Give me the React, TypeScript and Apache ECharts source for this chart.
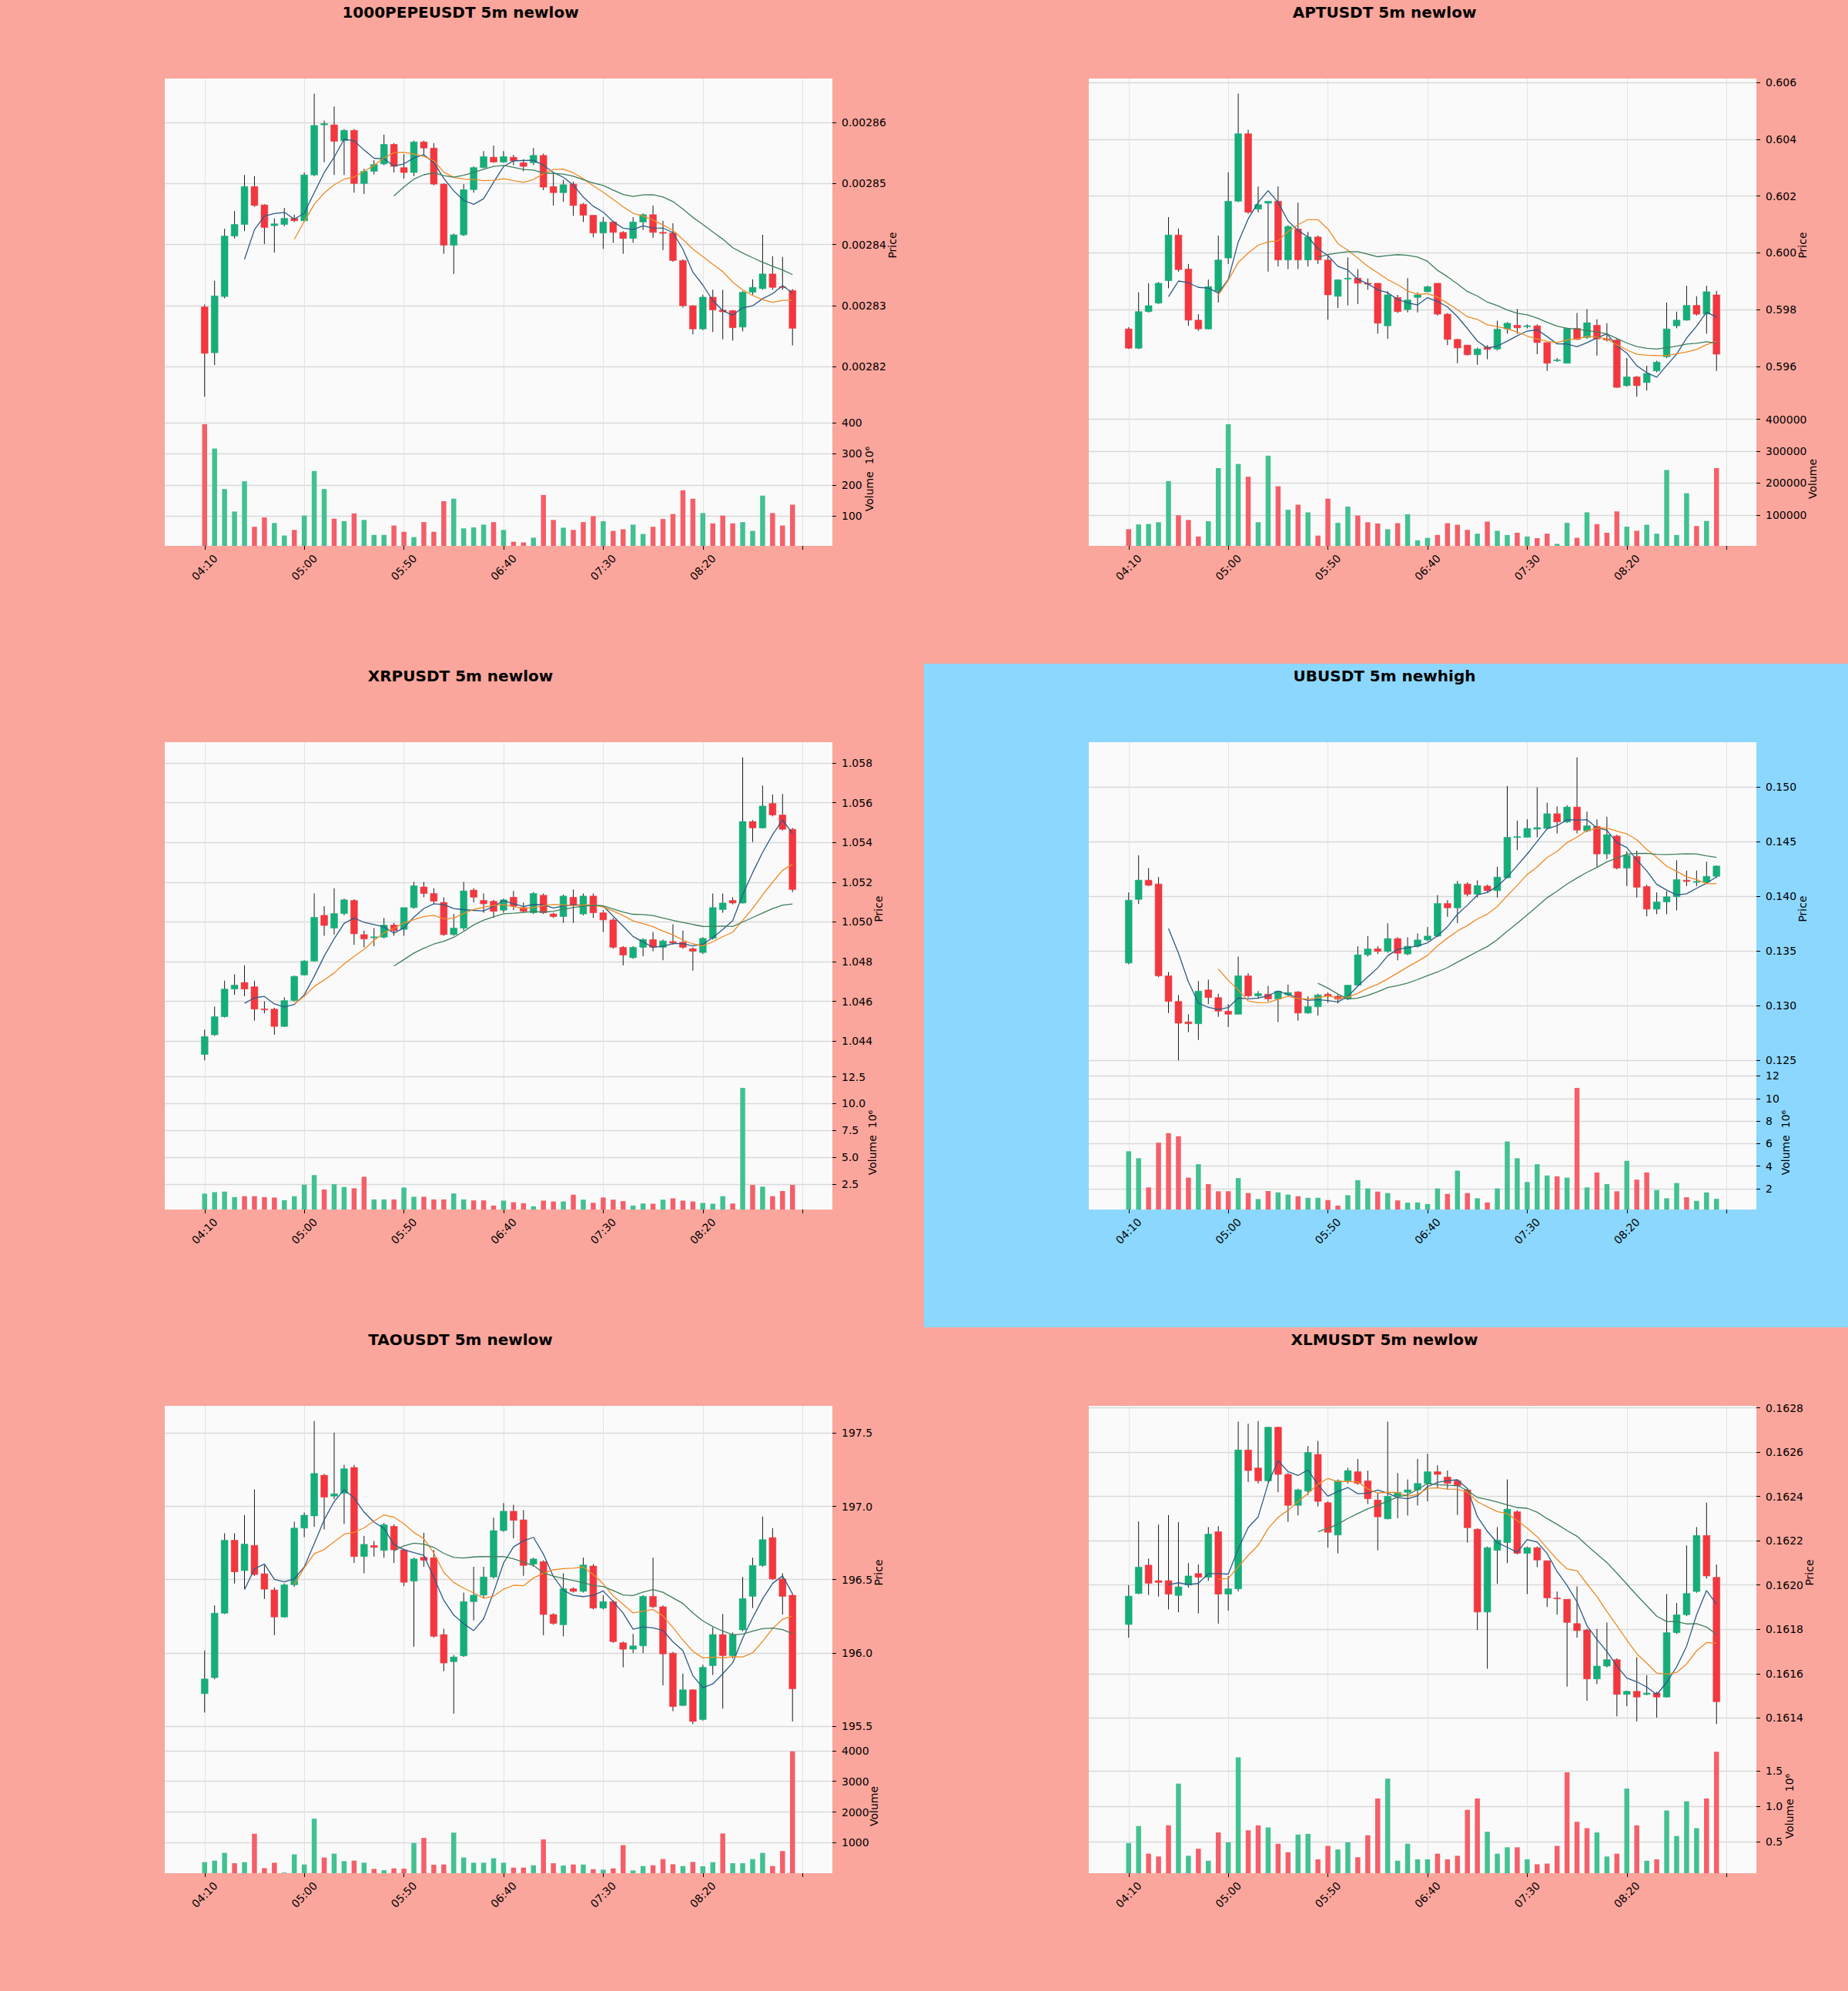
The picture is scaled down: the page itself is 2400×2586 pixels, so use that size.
import React, { useEffect, useRef } from 'react';
import * as echarts from 'echarts';

// ---------- data (OHLC rows are [open, high, low, close]) ----------
const PEPE_OHLC = [
  [282.98e-5, 283.02e-5, 281.51e-5, 282.22e-5], [282.23e-5, 283.41e-5, 282.03e-5, 283.16e-5], [283.15e-5, 284.26e-5, 283.12e-5, 284.14e-5],
  [284.14e-5, 284.55e-5, 284.10e-5, 284.33e-5], [284.33e-5, 285.14e-5, 284.22e-5, 284.95e-5], [284.95e-5, 285.12e-5, 284.62e-5, 284.64e-5],
  [284.65e-5, 284.66e-5, 284.01e-5, 284.28e-5], [284.31e-5, 284.43e-5, 283.87e-5, 284.34e-5], [284.33e-5, 284.60e-5, 284.30e-5, 284.43e-5],
  [284.43e-5, 284.49e-5, 284.37e-5, 284.39e-5], [284.39e-5, 285.18e-5, 284.37e-5, 285.14e-5], [285.14e-5, 286.47e-5, 285.12e-5, 285.95e-5],
  [285.96e-5, 286.03e-5, 285.35e-5, 285.98e-5], [285.96e-5, 286.26e-5, 285.14e-5, 285.69e-5], [285.70e-5, 285.89e-5, 285.14e-5, 285.87e-5],
  [285.87e-5, 285.89e-5, 284.85e-5, 285.00e-5], [285.00e-5, 285.24e-5, 284.83e-5, 285.20e-5], [285.20e-5, 285.38e-5, 285.15e-5, 285.31e-5],
  [285.32e-5, 285.80e-5, 285.30e-5, 285.64e-5], [285.64e-5, 285.66e-5, 285.18e-5, 285.28e-5], [285.26e-5, 285.48e-5, 285.08e-5, 285.18e-5],
  [285.18e-5, 285.70e-5, 285.12e-5, 285.68e-5], [285.68e-5, 285.70e-5, 285.47e-5, 285.58e-5], [285.58e-5, 285.66e-5, 284.97e-5, 284.99e-5],
  [284.99e-5, 285.00e-5, 283.85e-5, 283.99e-5], [283.99e-5, 284.18e-5, 283.52e-5, 284.16e-5], [284.16e-5, 284.99e-5, 284.14e-5, 284.90e-5],
  [284.90e-5, 285.28e-5, 284.85e-5, 285.26e-5], [285.26e-5, 285.53e-5, 285.25e-5, 285.44e-5], [285.43e-5, 285.62e-5, 285.34e-5, 285.35e-5],
  [285.35e-5, 285.53e-5, 285.34e-5, 285.44e-5], [285.43e-5, 285.47e-5, 285.30e-5, 285.37e-5], [285.34e-5, 285.40e-5, 285.20e-5, 285.28e-5],
  [285.34e-5, 285.58e-5, 285.30e-5, 285.46e-5], [285.46e-5, 285.49e-5, 284.89e-5, 284.94e-5], [284.95e-5, 285.18e-5, 284.64e-5, 284.85e-5],
  [284.85e-5, 285.06e-5, 284.70e-5, 284.98e-5], [284.99e-5, 285.03e-5, 284.47e-5, 284.64e-5], [284.66e-5, 284.68e-5, 284.37e-5, 284.48e-5],
  [284.48e-5, 284.48e-5, 284.12e-5, 284.19e-5], [284.19e-5, 284.45e-5, 283.93e-5, 284.37e-5], [284.37e-5, 284.39e-5, 284.03e-5, 284.20e-5],
  [284.20e-5, 284.22e-5, 283.85e-5, 284.10e-5], [284.10e-5, 284.45e-5, 284.03e-5, 284.37e-5], [284.37e-5, 284.51e-5, 284.24e-5, 284.49e-5],
  [284.49e-5, 284.64e-5, 284.11e-5, 284.20e-5], [284.20e-5, 284.39e-5, 283.91e-5, 284.19e-5], [284.19e-5, 284.35e-5, 283.72e-5, 283.74e-5],
  [283.74e-5, 283.76e-5, 282.97e-5, 283.00e-5], [283.00e-5, 283.01e-5, 282.53e-5, 282.62e-5], [282.62e-5, 283.18e-5, 282.60e-5, 283.14e-5],
  [283.14e-5, 283.26e-5, 282.57e-5, 282.93e-5], [282.93e-5, 283.26e-5, 282.45e-5, 282.90e-5], [282.92e-5, 282.93e-5, 282.43e-5, 282.64e-5],
  [282.65e-5, 283.24e-5, 282.58e-5, 283.22e-5], [283.22e-5, 283.43e-5, 283.18e-5, 283.30e-5], [283.28e-5, 284.16e-5, 283.26e-5, 283.52e-5],
  [283.52e-5, 283.81e-5, 283.26e-5, 283.30e-5], [283.31e-5, 283.80e-5, 283.26e-5, 283.30e-5], [283.25e-5, 283.27e-5, 282.35e-5, 282.63e-5],
];
const PEPE_VOL = [
  395e6, 317e6, 187e6, 115e6, 212e6, 66e6, 96e6, 78e6, 38e6, 56e6,
  102e6, 245e6, 187e6, 92e6, 84e6, 109e6, 88e6, 40e6, 40e6, 70e6,
  50e6, 33e6, 81e6, 50e6, 148e6, 156e6, 61e6, 64e6, 73e6, 81e6,
  56e6, 18e6, 16e6, 31e6, 168e6, 88e6, 63e6, 56e6, 81e6, 100e6,
  84e6, 53e6, 58e6, 73e6, 43e6, 66e6, 91e6, 107e6, 183e6, 156e6,
  110e6, 77e6, 102e6, 77e6, 81e6, 53e6, 166e6, 110e6, 70e6, 137e6,
];

const APT_OHLC = [
  [597.32e-3, 597.38e-3, 596.61e-3, 596.64e-3], [596.64e-3, 598.61e-3, 596.61e-3, 597.93e-3], [597.93e-3, 598.93e-3, 597.90e-3, 598.14e-3],
  [598.23e-3, 598.97e-3, 598.20e-3, 598.93e-3], [599.02e-3, 601.26e-3, 598.75e-3, 600.63e-3], [600.63e-3, 600.86e-3, 599.34e-3, 599.41e-3],
  [599.43e-3, 599.61e-3, 597.43e-3, 597.63e-3], [597.63e-3, 597.84e-3, 597.25e-3, 597.32e-3], [597.32e-3, 599.06e-3, 597.30e-3, 598.81e-3],
  [598.65e-3, 600.61e-3, 598.25e-3, 599.75e-3], [599.82e-3, 602.84e-3, 599.61e-3, 601.82e-3], [601.82e-3, 605.61e-3, 601.79e-3, 604.20e-3],
  [604.20e-3, 604.34e-3, 601.38e-3, 601.43e-3], [601.54e-3, 602.34e-3, 601.43e-3, 601.70e-3], [601.75e-3, 601.79e-3, 599.34e-3, 601.82e-3],
  [601.82e-3, 602.34e-3, 599.52e-3, 599.75e-3], [599.75e-3, 600.97e-3, 599.43e-3, 600.93e-3], [600.84e-3, 601.77e-3, 599.43e-3, 599.75e-3],
  [599.75e-3, 600.74e-3, 599.52e-3, 600.56e-3], [600.56e-3, 600.61e-3, 599.61e-3, 599.75e-3], [599.75e-3, 599.93e-3, 597.65e-3, 598.52e-3],
  [598.47e-3, 599.07e-3, 598.06e-3, 599.05e-3], [599.10e-3, 599.84e-3, 598.15e-3, 599.11e-3], [599.11e-3, 599.43e-3, 598.20e-3, 598.93e-3],
  [598.93e-3, 599.10e-3, 598.70e-3, 598.90e-3], [598.93e-3, 598.93e-3, 597.15e-3, 597.52e-3], [597.43e-3, 598.65e-3, 596.97e-3, 598.52e-3],
  [598.43e-3, 598.52e-3, 597.88e-3, 597.93e-3], [598.00e-3, 599.11e-3, 597.90e-3, 598.34e-3], [598.43e-3, 598.61e-3, 597.90e-3, 598.52e-3],
  [598.63e-3, 598.84e-3, 598.61e-3, 598.81e-3], [598.93e-3, 598.93e-3, 597.79e-3, 597.84e-3], [597.84e-3, 597.88e-3, 596.75e-3, 596.95e-3],
  [596.95e-3, 596.97e-3, 596.11e-3, 596.65e-3], [596.75e-3, 596.75e-3, 596.38e-3, 596.41e-3], [596.41e-3, 596.66e-3, 596.06e-3, 596.61e-3],
  [596.68e-3, 596.75e-3, 596.25e-3, 596.60e-3], [596.61e-3, 597.61e-3, 596.56e-3, 597.31e-3], [597.32e-3, 597.56e-3, 597.15e-3, 597.52e-3],
  [597.45e-3, 598.02e-3, 597.15e-3, 597.36e-3], [597.40e-3, 597.48e-3, 597.34e-3, 597.43e-3], [597.43e-3, 597.48e-3, 596.43e-3, 596.84e-3],
  [596.84e-3, 596.84e-3, 595.84e-3, 596.11e-3], [596.20e-3, 596.29e-3, 596.16e-3, 596.23e-3], [596.11e-3, 597.36e-3, 596.11e-3, 597.34e-3],
  [597.34e-3, 597.88e-3, 596.93e-3, 596.95e-3], [597.02e-3, 598.02e-3, 596.97e-3, 597.54e-3], [597.45e-3, 597.66e-3, 596.38e-3, 596.97e-3],
  [596.97e-3, 597.52e-3, 596.88e-3, 596.93e-3], [596.93e-3, 596.97e-3, 595.25e-3, 595.26e-3], [595.32e-3, 596.29e-3, 595.29e-3, 595.63e-3],
  [595.63e-3, 595.66e-3, 594.93e-3, 595.32e-3], [595.43e-3, 596.02e-3, 595.15e-3, 595.75e-3], [595.84e-3, 596.20e-3, 595.79e-3, 596.15e-3],
  [596.34e-3, 598.25e-3, 596.29e-3, 597.32e-3], [597.43e-3, 597.93e-3, 597.34e-3, 597.63e-3], [597.63e-3, 598.84e-3, 597.61e-3, 598.15e-3],
  [598.15e-3, 598.47e-3, 597.79e-3, 597.84e-3], [597.84e-3, 598.84e-3, 597.15e-3, 598.63e-3], [598.52e-3, 598.66e-3, 595.84e-3, 596.43e-3],
];
const APT_VOL = [
  55e3, 70e3, 71.5e3, 77e3, 206e3, 99e3, 84e3, 32e3, 80e3, 247e3,
  385e3, 260e3, 220e3, 77e3, 286e3, 190e3, 116e3, 132e3, 108e3, 35e3,
  151e3, 75e3, 126e3, 98e3, 77e3, 73e3, 55e3, 74e3, 102e3, 20e3,
  28e3, 37e3, 74e3, 69e3, 53e3, 41e3, 79e3, 50e3, 37e3, 44e3,
  32e3, 27e3, 41e3, 9e3, 75e3, 28e3, 108e3, 71e3, 44e3, 111e3,
  63e3, 50e3, 69e3, 41e3, 241e3, 37e3, 168e3, 65e3, 81e3, 247e3,
];

const XRP_OHLC = [
  [1043.33e-3, 1044.58e-3, 1043.03e-3, 1044.23e-3], [1044.32e-3, 1045.74e-3, 1044.26e-3, 1045.23e-3], [1045.23e-3, 1047.04e-3, 1045.19e-3, 1046.62e-3],
  [1046.62e-3, 1047.36e-3, 1046.33e-3, 1046.82e-3], [1046.95e-3, 1047.81e-3, 1046.26e-3, 1046.62e-3], [1046.74e-3, 1047.04e-3, 1045.03e-3, 1045.61e-3],
  [1045.62e-3, 1046.00e-3, 1045.40e-3, 1045.58e-3], [1045.61e-3, 1045.68e-3, 1044.32e-3, 1044.74e-3], [1044.74e-3, 1046.20e-3, 1044.71e-3, 1046.04e-3],
  [1046.04e-3, 1047.30e-3, 1046.00e-3, 1047.26e-3], [1047.33e-3, 1048.07e-3, 1047.30e-3, 1048.03e-3], [1048.03e-3, 1051.43e-3, 1048.01e-3, 1050.23e-3],
  [1050.33e-3, 1050.79e-3, 1049.30e-3, 1049.82e-3], [1049.69e-3, 1051.69e-3, 1049.36e-3, 1050.42e-3], [1050.42e-3, 1051.17e-3, 1050.33e-3, 1051.11e-3],
  [1051.08e-3, 1051.14e-3, 1048.85e-3, 1049.40e-3], [1049.36e-3, 1049.56e-3, 1048.72e-3, 1049.14e-3], [1049.20e-3, 1049.69e-3, 1048.78e-3, 1049.25e-3],
  [1049.23e-3, 1050.20e-3, 1049.17e-3, 1049.84e-3], [1049.84e-3, 1049.95e-3, 1049.30e-3, 1049.56e-3], [1049.62e-3, 1050.72e-3, 1049.30e-3, 1050.72e-3],
  [1050.72e-3, 1052.01e-3, 1050.66e-3, 1051.82e-3], [1051.76e-3, 1052.01e-3, 1051.24e-3, 1051.43e-3], [1051.43e-3, 1051.69e-3, 1050.92e-3, 1051.04e-3],
  [1050.98e-3, 1051.24e-3, 1049.30e-3, 1049.36e-3], [1049.36e-3, 1050.40e-3, 1049.30e-3, 1049.69e-3], [1049.69e-3, 1052.01e-3, 1049.56e-3, 1051.56e-3],
  [1051.60e-3, 1051.69e-3, 1050.98e-3, 1051.24e-3], [1051.08e-3, 1051.43e-3, 1050.46e-3, 1050.91e-3], [1051.04e-3, 1051.11e-3, 1050.20e-3, 1050.53e-3],
  [1050.59e-3, 1051.17e-3, 1050.46e-3, 1051.11e-3], [1051.24e-3, 1051.56e-3, 1050.59e-3, 1050.79e-3], [1050.72e-3, 1050.98e-3, 1050.46e-3, 1050.53e-3],
  [1050.46e-3, 1051.50e-3, 1050.40e-3, 1051.43e-3], [1051.34e-3, 1051.43e-3, 1050.40e-3, 1050.46e-3], [1050.40e-3, 1050.46e-3, 1050.20e-3, 1050.27e-3],
  [1050.27e-3, 1051.37e-3, 1049.95e-3, 1051.30e-3], [1051.24e-3, 1051.63e-3, 1049.95e-3, 1050.85e-3], [1050.40e-3, 1051.43e-3, 1050.33e-3, 1051.30e-3],
  [1051.30e-3, 1051.43e-3, 1050.20e-3, 1050.46e-3], [1050.46e-3, 1050.59e-3, 1049.49e-3, 1050.10e-3], [1050.10e-3, 1050.20e-3, 1048.65e-3, 1048.72e-3],
  [1048.72e-3, 1048.78e-3, 1047.81e-3, 1048.33e-3], [1048.20e-3, 1048.78e-3, 1048.14e-3, 1048.72e-3], [1048.72e-3, 1049.17e-3, 1048.27e-3, 1049.11e-3],
  [1049.11e-3, 1049.49e-3, 1048.52e-3, 1048.72e-3], [1048.72e-3, 1049.11e-3, 1048.07e-3, 1049.04e-3], [1049.01e-3, 1049.88e-3, 1048.85e-3, 1048.94e-3],
  [1048.98e-3, 1049.56e-3, 1048.65e-3, 1048.72e-3], [1048.65e-3, 1048.72e-3, 1047.55e-3, 1048.52e-3], [1048.46e-3, 1049.23e-3, 1048.39e-3, 1049.17e-3],
  [1049.17e-3, 1051.43e-3, 1049.11e-3, 1050.72e-3], [1050.62e-3, 1051.43e-3, 1050.46e-3, 1050.95e-3], [1051.08e-3, 1051.24e-3, 1050.88e-3, 1050.95e-3],
  [1050.95e-3, 1058.28e-3, 1050.92e-3, 1055.05e-3], [1055.05e-3, 1055.12e-3, 1054.02e-3, 1054.73e-3], [1054.73e-3, 1056.86e-3, 1054.70e-3, 1055.83e-3],
  [1055.96e-3, 1056.41e-3, 1055.31e-3, 1055.38e-3], [1055.38e-3, 1056.44e-3, 1054.60e-3, 1054.66e-3], [1054.66e-3, 1054.73e-3, 1051.50e-3, 1051.63e-3],
];
const XRP_VOL = [
  1.61e6, 1.75e6, 1.80e6, 1.29e6, 1.37e6, 1.37e6, 1.29e6, 1.25e6, 1.00e6, 1.37e6,
  2.45e6, 3.34e6, 2.00e6, 2.49e6, 2.23e6, 2.11e6, 3.18e6, 1.07e6, 1.07e6, 1.07e6,
  2.18e6, 1.32e6, 1.32e6, 1.07e6, 1.07e6, 1.63e6, 1.07e6, 0.98e6, 0.98e6, 0.50e6,
  0.96e6, 0.81e6, 0.72e6, 0.43e6, 0.96e6, 0.88e6, 0.88e6, 1.51e6, 1.05e6, 0.76e6,
  1.25e6, 1.05e6, 0.91e6, 0.50e6, 0.69e6, 0.67e6, 1.05e6, 1.17e6, 0.96e6, 0.88e6,
  0.74e6, 0.67e6, 1.37e6, 0.69e6, 11.47e6, 2.42e6, 2.26e6, 1.37e6, 1.85e6, 2.42e6,
];

const UB_OHLC = [
  [133.90e-3, 140.35e-3, 133.79e-3, 139.64e-3], [139.71e-3, 143.74e-3, 139.29e-3, 141.47e-3], [141.47e-3, 142.57e-3, 140.93e-3, 141.00e-3],
  [141.12e-3, 141.75e-3, 132.61e-3, 132.73e-3], [132.73e-3, 133.08e-3, 129.33e-3, 130.39e-3], [130.39e-3, 130.97e-3, 125.00e-3, 128.40e-3],
  [128.52e-3, 129.22e-3, 127.58e-3, 128.35e-3], [128.35e-3, 132.26e-3, 126.87e-3, 131.33e-3], [131.44e-3, 132.38e-3, 130.15e-3, 130.74e-3],
  [130.74e-3, 131.09e-3, 128.98e-3, 129.50e-3], [129.50e-3, 130.15e-3, 128.05e-3, 129.22e-3], [129.22e-3, 134.49e-3, 129.22e-3, 132.73e-3],
  [132.73e-3, 132.97e-3, 130.74e-3, 130.90e-3], [130.90e-3, 131.33e-3, 130.62e-3, 131.10e-3], [131.05e-3, 131.80e-3, 130.39e-3, 130.62e-3],
  [130.62e-3, 131.33e-3, 128.51e-3, 131.33e-3], [131.00e-3, 131.91e-3, 130.86e-3, 131.20e-3], [131.26e-3, 131.33e-3, 128.63e-3, 129.33e-3],
  [129.33e-3, 130.86e-3, 129.26e-3, 129.92e-3], [129.90e-3, 131.09e-3, 129.10e-3, 130.98e-3], [131.05e-3, 131.21e-3, 130.27e-3, 130.86e-3],
  [130.86e-3, 131.00e-3, 130.20e-3, 130.60e-3], [130.62e-3, 131.91e-3, 130.51e-3, 131.87e-3], [131.87e-3, 135.43e-3, 131.80e-3, 134.65e-3],
  [134.65e-3, 136.36e-3, 134.49e-3, 135.19e-3], [135.20e-3, 135.43e-3, 134.72e-3, 134.96e-3], [134.96e-3, 137.53e-3, 134.84e-3, 136.13e-3],
  [136.13e-3, 136.25e-3, 134.14e-3, 134.79e-3], [134.72e-3, 136.25e-3, 134.61e-3, 135.43e-3], [135.43e-3, 136.60e-3, 135.31e-3, 136.01e-3],
  [136.01e-3, 137.18e-3, 135.89e-3, 136.36e-3], [136.36e-3, 140.11e-3, 136.25e-3, 139.34e-3], [139.34e-3, 139.64e-3, 138.12e-3, 138.94e-3],
  [138.94e-3, 141.40e-3, 137.54e-3, 141.12e-3], [141.12e-3, 141.28e-3, 139.99e-3, 140.18e-3], [140.18e-3, 141.45e-3, 139.88e-3, 140.98e-3],
  [140.93e-3, 141.05e-3, 140.35e-3, 140.51e-3], [140.51e-3, 142.69e-3, 139.88e-3, 141.75e-3], [141.68e-3, 150.07e-3, 141.64e-3, 145.38e-3],
  [145.38e-3, 146.91e-3, 144.21e-3, 145.45e-3], [145.38e-3, 147.02e-3, 145.38e-3, 146.20e-3], [146.13e-3, 149.95e-3, 145.38e-3, 146.27e-3],
  [146.20e-3, 148.55e-3, 146.09e-3, 147.54e-3], [147.54e-3, 148.20e-3, 145.74e-3, 146.79e-3], [146.79e-3, 148.31e-3, 146.70e-3, 148.15e-3],
  [148.15e-3, 152.69e-3, 145.74e-3, 146.04e-3], [145.97e-3, 147.73e-3, 145.85e-3, 146.44e-3], [146.37e-3, 147.02e-3, 142.69e-3, 143.86e-3],
  [143.86e-3, 147.26e-3, 143.39e-3, 145.62e-3], [145.50e-3, 145.62e-3, 142.46e-3, 142.57e-3], [142.57e-3, 144.10e-3, 140.93e-3, 143.74e-3],
  [143.63e-3, 144.17e-3, 139.88e-3, 140.82e-3], [140.89e-3, 141.05e-3, 138.17e-3, 138.82e-3], [138.82e-3, 140.35e-3, 138.36e-3, 139.48e-3],
  [139.48e-3, 140.46e-3, 138.36e-3, 139.95e-3], [139.95e-3, 143.28e-3, 138.71e-3, 141.52e-3], [141.47e-3, 142.34e-3, 140.93e-3, 141.35e-3],
  [141.30e-3, 142.34e-3, 140.93e-3, 141.35e-3], [141.29e-3, 143.16e-3, 141.17e-3, 141.82e-3], [141.82e-3, 142.81e-3, 141.68e-3, 142.76e-3],
];
const UB_VOL = [
  5.32e6, 4.70e6, 2.11e6, 6.08e6, 6.93e6, 6.65e6, 2.98e6, 4.17e6, 2.41e6, 1.77e6,
  1.77e6, 2.94e6, 1.61e6, 1.08e6, 1.79e6, 1.67e6, 1.47e6, 1.33e6, 1.19e6, 1.19e6,
  0.99e6, 0.50e6, 1.42e6, 2.75e6, 2.02e6, 1.74e6, 1.61e6, 0.96e6, 0.76e6, 0.78e6,
  0.64e6, 2.02e6, 1.54e6, 3.60e6, 1.61e6, 1.15e6, 0.78e6, 2.02e6, 6.19e6, 4.70e6,
  2.59e6, 4.17e6, 3.17e6, 3.10e6, 2.98e6, 10.94e6, 2.11e6, 3.44e6, 2.41e6, 1.77e6,
  4.47e6, 2.80e6, 3.44e6, 1.88e6, 1.15e6, 2.50e6, 1.24e6, 0.92e6, 1.67e6, 1.10e6,
];

const TAO_OHLC = [
  [195.722, 196.016, 195.593, 195.822], [195.831, 196.324, 195.820, 196.271], [196.271, 196.817, 196.265, 196.769],
  [196.769, 196.817, 196.474, 196.553], [196.562, 196.940, 196.438, 196.743], [196.734, 197.116, 196.525, 196.535],
  [196.540, 196.598, 196.368, 196.435], [196.430, 196.447, 196.121, 196.245], [196.245, 196.474, 196.240, 196.465],
  [196.465, 196.896, 196.450, 196.852], [196.852, 196.958, 196.790, 196.940], [196.935, 197.583, 196.861, 197.225],
  [197.213, 197.222, 196.843, 197.063], [197.070, 197.504, 197.050, 197.086], [197.090, 197.284, 196.880, 197.257],
  [197.266, 197.283, 196.614, 196.658], [196.658, 196.799, 196.544, 196.741], [196.733, 196.764, 196.658, 196.720],
  [196.700, 196.887, 196.650, 196.875], [196.864, 196.877, 196.614, 196.703], [196.703, 196.711, 196.456, 196.482],
  [196.490, 196.650, 196.042, 196.641], [196.653, 196.820, 196.588, 196.632], [196.650, 196.703, 196.104, 196.113],
  [196.125, 196.165, 195.875, 195.931], [195.940, 195.985, 195.585, 195.972], [195.980, 196.412, 195.972, 196.350],
  [196.350, 196.588, 196.222, 196.394], [196.394, 196.588, 196.377, 196.518], [196.518, 196.923, 196.508, 196.835],
  [196.835, 197.023, 196.826, 196.967], [196.967, 197.011, 196.782, 196.905], [196.908, 196.975, 196.526, 196.597],
  [196.606, 196.650, 196.588, 196.641], [196.623, 196.632, 196.121, 196.262], [196.262, 196.271, 196.192, 196.201],
  [196.192, 196.544, 196.113, 196.438], [196.438, 196.447, 196.412, 196.420], [196.420, 196.650, 196.412, 196.600],
  [196.593, 196.606, 196.297, 196.306], [196.306, 196.394, 196.297, 196.350], [196.350, 196.359, 196.069, 196.077],
  [196.069, 196.077, 195.901, 196.025], [196.025, 196.130, 195.998, 196.048], [196.048, 196.394, 195.998, 196.386],
  [196.386, 196.650, 196.306, 196.315], [196.315, 196.324, 195.778, 195.993], [195.998, 196.007, 195.602, 195.634],
  [195.641, 195.859, 195.637, 195.748], [195.748, 195.752, 195.514, 195.532], [195.545, 195.919, 195.538, 195.901],
  [195.913, 196.174, 195.849, 196.125], [196.125, 196.266, 195.620, 195.981], [195.981, 196.139, 195.963, 196.125],
  [196.157, 196.518, 196.148, 196.371], [196.386, 196.650, 196.306, 196.597], [196.597, 196.931, 196.588, 196.773],
  [196.787, 196.852, 196.500, 196.505], [196.505, 196.544, 196.262, 196.386], [196.394, 196.403, 195.532, 195.755],
];
const TAO_VOL = [
  368, 419, 671, 334, 368, 1295, 174, 351, 31, 621,
  292, 1784, 520, 646, 402, 419, 351, 149, 107, 166,
  158, 992, 1160, 284, 292, 1331, 520, 351, 351, 495,
  351, 191, 191, 267, 1110, 334, 259, 292, 292, 141,
  124, 166, 924, 99, 242, 267, 469, 301, 242, 377,
  234, 368, 1303, 334, 334, 469, 671, 242, 730, 3974,
];

const XLM_OHLC = [
  [1618.22e-4, 1620.00e-4, 1617.62e-4, 1619.50e-4], [1619.62e-4, 1622.87e-4, 1619.59e-4, 1620.81e-4], [1620.90e-4, 1621.20e-4, 1619.55e-4, 1620.08e-4],
  [1620.20e-4, 1622.73e-4, 1619.48e-4, 1620.12e-4], [1620.20e-4, 1623.16e-4, 1618.90e-4, 1619.59e-4], [1619.53e-4, 1622.84e-4, 1618.77e-4, 1619.92e-4],
  [1620.00e-4, 1620.99e-4, 1619.88e-4, 1620.41e-4], [1620.52e-4, 1620.93e-4, 1618.72e-4, 1620.35e-4], [1620.35e-4, 1622.62e-4, 1620.19e-4, 1622.30e-4],
  [1622.41e-4, 1622.66e-4, 1618.26e-4, 1619.59e-4], [1619.59e-4, 1620.41e-4, 1618.84e-4, 1619.83e-4], [1619.83e-4, 1627.38e-4, 1619.71e-4, 1626.10e-4],
  [1626.10e-4, 1627.29e-4, 1624.65e-4, 1625.17e-4], [1625.29e-4, 1627.41e-4, 1624.59e-4, 1624.71e-4], [1624.71e-4, 1627.15e-4, 1624.65e-4, 1627.13e-4],
  [1627.13e-4, 1627.15e-4, 1624.19e-4, 1625.00e-4], [1625.00e-4, 1625.06e-4, 1622.85e-4, 1623.60e-4], [1623.60e-4, 1624.35e-4, 1623.14e-4, 1624.30e-4],
  [1624.24e-4, 1626.28e-4, 1624.07e-4, 1625.99e-4], [1625.90e-4, 1626.51e-4, 1623.55e-4, 1623.78e-4], [1623.72e-4, 1623.78e-4, 1621.69e-4, 1622.38e-4],
  [1622.26e-4, 1624.77e-4, 1621.43e-4, 1624.71e-4], [1624.71e-4, 1625.29e-4, 1624.59e-4, 1625.17e-4], [1625.12e-4, 1625.70e-4, 1624.53e-4, 1624.59e-4],
  [1624.71e-4, 1625.17e-4, 1623.66e-4, 1623.90e-4], [1623.84e-4, 1624.13e-4, 1621.57e-4, 1623.08e-4], [1622.99e-4, 1627.38e-4, 1622.97e-4, 1624.01e-4],
  [1624.01e-4, 1625.06e-4, 1623.02e-4, 1624.19e-4], [1624.19e-4, 1624.77e-4, 1623.14e-4, 1624.30e-4], [1624.30e-4, 1625.70e-4, 1623.60e-4, 1624.59e-4],
  [1624.59e-4, 1625.93e-4, 1623.78e-4, 1625.12e-4], [1625.12e-4, 1625.41e-4, 1624.36e-4, 1625.00e-4], [1624.88e-4, 1625.17e-4, 1624.30e-4, 1624.59e-4],
  [1624.71e-4, 1624.77e-4, 1623.17e-4, 1624.48e-4], [1624.30e-4, 1624.36e-4, 1621.92e-4, 1622.59e-4], [1622.52e-4, 1622.56e-4, 1617.97e-4, 1618.78e-4],
  [1618.78e-4, 1621.74e-4, 1616.22e-4, 1621.69e-4], [1621.57e-4, 1622.62e-4, 1620.06e-4, 1622.03e-4], [1621.92e-4, 1624.77e-4, 1620.99e-4, 1623.43e-4],
  [1623.31e-4, 1623.37e-4, 1621.39e-4, 1621.43e-4], [1621.43e-4, 1621.74e-4, 1619.59e-4, 1621.69e-4], [1621.69e-4, 1621.74e-4, 1620.81e-4, 1621.13e-4],
  [1621.10e-4, 1621.10e-4, 1619.01e-4, 1619.42e-4], [1619.42e-4, 1619.71e-4, 1618.66e-4, 1619.38e-4], [1619.36e-4, 1619.36e-4, 1615.41e-4, 1618.31e-4],
  [1618.26e-4, 1619.94e-4, 1617.62e-4, 1617.94e-4], [1617.97e-4, 1618.02e-4, 1614.77e-4, 1615.76e-4], [1615.76e-4, 1618.02e-4, 1615.52e-4, 1616.34e-4],
  [1616.34e-4, 1618.31e-4, 1616.28e-4, 1616.63e-4], [1616.63e-4, 1616.69e-4, 1614.07e-4, 1615.06e-4], [1615.06e-4, 1615.23e-4, 1614.53e-4, 1615.20e-4],
  [1615.20e-4, 1616.74e-4, 1613.84e-4, 1614.94e-4], [1615.06e-4, 1615.93e-4, 1615.02e-4, 1615.12e-4], [1615.12e-4, 1615.18e-4, 1614.01e-4, 1614.94e-4],
  [1614.94e-4, 1619.59e-4, 1614.92e-4, 1617.85e-4], [1617.85e-4, 1619.19e-4, 1617.79e-4, 1618.66e-4], [1618.66e-4, 1621.79e-4, 1618.60e-4, 1619.62e-4],
  [1619.71e-4, 1622.62e-4, 1619.65e-4, 1622.24e-4], [1622.24e-4, 1623.72e-4, 1620.29e-4, 1620.41e-4], [1620.35e-4, 1620.93e-4, 1613.72e-4, 1614.73e-4],
];
const XLM_VOL = [
  0.48e6, 0.72e6, 0.33e6, 0.29e6, 0.73e6, 1.32e6, 0.30e6, 0.40e6, 0.23e6, 0.63e6,
  0.49e6, 1.69e6, 0.66e6, 0.73e6, 0.70e6, 0.47e6, 0.35e6, 0.60e6, 0.61e6, 0.25e6,
  0.44e6, 0.39e6, 0.49e6, 0.28e6, 0.59e6, 1.11e6, 1.39e6, 0.23e6, 0.47e6, 0.25e6,
  0.25e6, 0.33e6, 0.25e6, 0.30e6, 0.95e6, 1.11e6, 0.64e6, 0.33e6, 0.42e6, 0.42e6,
  0.25e6, 0.18e6, 0.19e6, 0.44e6, 1.48e6, 0.78e6, 0.69e6, 0.63e6, 0.29e6, 0.33e6,
  1.25e6, 0.73e6, 0.23e6, 0.25e6, 0.94e6, 0.58e6, 1.07e6, 0.69e6, 1.11e6, 1.77e6,
];

const TICK_LABELS = ['04:10', '05:00', '05:50', '06:40', '07:30', '08:20'];
const MA_PERIODS = [5, 10, 20];

// ---------- styles ----------
const SALMON = '#fba69c';
const SKY = '#8cd7fd';
const FACE = '#fafafa';
const UP = '#16ad78';
const DOWN = '#f2373f';
const VUP = '#42c191';
const VDOWN = '#f45f69';
const WICK = '#1a1a1a';
const MA_COLORS = ['#2b5b86', '#f08a24', '#3f7e5b'];
const GRID_H = '#d9d9d9';
const GRID_V = '#e3e3e3';
const FONT = 'DejaVu Sans';

const PANELS = [
  { title: '1000PEPEUSDT 5m newlow', ohlc: PEPE_OHLC, vol: PEPE_VOL, pInt: 0.00001, pDig: 5, vInt: 100e6, vScale: 1e6, vDig: 0, vName: 'Volume  10\u2076', bg: SALMON, pGap: 71, vGap: 41 },
  { title: 'APTUSDT 5m newlow', ohlc: APT_OHLC, vol: APT_VOL, pInt: 0.002, pDig: 3, vInt: 100000, vScale: 1, vDig: 0, vName: 'Volume', bg: SALMON, pGap: 53, vGap: 66 },
  { title: 'XRPUSDT 5m newlow', ohlc: XRP_OHLC, vol: XRP_VOL, pInt: 0.002, pDig: 3, vInt: 2.5e6, vScale: 1e6, vDig: 1, vName: 'Volume  10\u2076', bg: SALMON, pGap: 53, vGap: 45 },
  { title: 'UBUSDT 5m newhigh', ohlc: UB_OHLC, vol: UB_VOL, pInt: 0.005, pDig: 3, vInt: 2e6, vScale: 1e6, vDig: 0, vName: 'Volume  10\u2076', bg: SKY, pGap: 53, vGap: 31 },
  { title: 'TAOUSDT 5m newlow', ohlc: TAO_OHLC, vol: TAO_VOL, pInt: 0.5, pDig: 1, vInt: 1000, vScale: 1, vDig: 0, vName: 'Volume', bg: SALMON, pGap: 53, vGap: 47 },
  { title: 'XLMUSDT 5m newlow', ohlc: XLM_OHLC, vol: XLM_VOL, pInt: 0.0002, pDig: 4, vInt: 0.5e6, vScale: 1e6, vDig: 1, vName: 'Volume  10\u2076', bg: SALMON, pGap: 62, vGap: 36 },
];

// ---------- layout ----------
const W = 2400, H = 2586;
const CELL_W = 1200, CELL_H = 862;
const PLOT_LEFT = 214, PLOT_W = 867;
const PRICE_TOP = 102, PRICE_H = 433, VOL_TOP = 535, VOL_H = 174;
const PAD = 4;
const NCAT = 68;
const CATS = Array.from({ length: NCAT }, (_, i) => String(i));

function sma(closes: number[], n: number) {
  return closes.map((_, i) => {
    if (i < n - 1) return null;
    let s = 0;
    for (let j = i - n + 1; j <= i; j++) s += closes[j];
    return s / n;
  });
}

const isTick = (idx: number) => idx >= PAD && (idx - PAD) % 10 === 0 && idx - PAD <= 60;
const isLabel = (idx: number) => isTick(idx) && idx - PAD <= 50;

function buildOption() {
  const grid: any[] = [], xAxis: any[] = [], yAxis: any[] = [], series: any[] = [], graphic: any[] = [];
  const axisText = { fontSize: 14, color: '#000', fontFamily: FONT };

  PANELS.forEach((p, k) => {
    const cx = (k % 2) * CELL_W;
    const cy = Math.floor(k / 2) * CELL_H;
    graphic.push({ type: 'rect', z: -100, silent: true, shape: { x: cx, y: cy, width: CELL_W, height: CELL_H }, style: { fill: p.bg } });
    graphic.push({ type: 'text', z: 100, silent: true, x: cx + 598, y: cy + 16, style: { text: p.title, fontSize: 20, fontWeight: 'bold', fontFamily: FONT, fill: '#000', align: 'center', verticalAlign: 'middle' } });

    const gP = grid.length;
    grid.push({ left: cx + PLOT_LEFT, top: cy + PRICE_TOP, width: PLOT_W, height: PRICE_H, show: true, backgroundColor: FACE, borderWidth: 0, containLabel: false, outerBoundsMode: 'none' });
    grid.push({ left: cx + PLOT_LEFT, top: cy + VOL_TOP, width: PLOT_W, height: VOL_H, show: true, backgroundColor: FACE, borderWidth: 0, containLabel: false, outerBoundsMode: 'none' });

    const vSplit = { show: true, interval: (i: number) => isTick(i), lineStyle: { color: GRID_V, width: 1 } };
    xAxis.push({ type: 'category', gridIndex: gP, data: CATS, boundaryGap: false, axisLine: { show: false }, axisTick: { show: false }, axisLabel: { show: false }, splitLine: vSplit });
    xAxis.push({
      type: 'category', gridIndex: gP + 1, data: CATS, boundaryGap: false,
      axisLine: { show: false },
      axisTick: { show: true, interval: (i: number) => isTick(i), length: 5, lineStyle: { color: '#000', width: 1 } },
      axisLabel: {
        show: true, interval: (i: number) => isLabel(i), rotate: 45, align: 'center', verticalAlign: 'middle', margin: 28, ...axisText,
        formatter: (_v: string, i: number) => TICK_LABELS[(i - PAD) / 10] || '',
      },
      splitLine: vSplit,
    });

    const highs = p.ohlc.map((r) => r[1]);
    const lows = p.ohlc.map((r) => r[2]);
    const hi = Math.max(...highs), lo = Math.min(...lows);
    const pad = 0.05 * (hi - lo);
    const vmax = Math.max(...p.vol), vmin = Math.min(...p.vol);

    const ySplit = { show: true, showMinLine: false, showMaxLine: false, lineStyle: { color: GRID_H, width: 1.3 } };
    const yCommon = {
      type: 'value', position: 'right', scale: true,
      axisLine: { show: false },
      axisTick: { show: true, length: 5, lineStyle: { color: '#000', width: 1 } },
      nameLocation: 'middle', nameRotate: 90, nameMoveOverlap: false,
      nameTextStyle: { fontSize: 14, color: '#000', fontFamily: FONT },
      splitLine: ySplit,
    };
    const yP = yAxis.length;
    yAxis.push({
      ...yCommon, gridIndex: gP, min: lo - pad, max: hi + pad, minInterval: p.pInt, maxInterval: p.pInt,
      name: 'Price', nameGap: p.pGap,
      axisLabel: { ...axisText, margin: 12, showMinLabel: false, showMaxLabel: false, formatter: (v: number) => v.toFixed(p.pDig) },
    });
    yAxis.push({
      ...yCommon, gridIndex: gP + 1, min: 0.3 * vmin, max: 1.1 * vmax, minInterval: p.vInt, maxInterval: p.vInt,
      name: p.vName, nameGap: p.vGap,
      axisLabel: { ...axisText, margin: 12, showMinLabel: false, showMaxLabel: false, formatter: (v: number) => (v / p.vScale).toFixed(p.vDig) },
    });

    const candleData = p.ohlc.map((r, i) => [i + PAD, r[0], r[3], r[2], r[1]]);
    series.push({
      type: 'custom', xAxisIndex: gP, yAxisIndex: yP, z: 2, silent: true,
      data: candleData, encode: { x: 0, y: [1, 2, 3, 4] },
      renderItem: (_params: any, api: any) => {
        const x = api.value(0);
        const o = api.value(1), c = api.value(2), l = api.value(3), h = api.value(4);
        const pO = api.coord([x, o]);
        const pC = api.coord([x, c]);
        const pL = api.coord([x, l]);
        const pH = api.coord([x, h]);
        const bw = 8.8;
        const col = c >= o ? UP : DOWN;
        const top = Math.min(pO[1], pC[1]);
        const hh = Math.max(Math.abs(pO[1] - pC[1]), 1.2);
        return {
          type: 'group',
          children: [
            { type: 'line', shape: { x1: pH[0], y1: pH[1], x2: pL[0], y2: pL[1] }, style: { stroke: WICK, lineWidth: 1 } },
            { type: 'rect', shape: { x: pO[0] - bw / 2, y: top, width: bw, height: hh }, style: { fill: col, stroke: col, lineWidth: 0.6 } },
          ],
        };
      },
    });

    const closes = p.ohlc.map((r) => r[3]);
    MA_PERIODS.forEach((n, m) => {
      const ma = sma(closes, n);
      const data: any[] = [];
      for (let i = 0; i < NCAT; i++) {
        const j = i - PAD;
        data.push(j >= 0 && j < ma.length && ma[j] !== null ? ma[j] : '-');
      }
      series.push({
        type: 'line', xAxisIndex: gP, yAxisIndex: yP, z: 3, silent: true, data,
        showSymbol: false, symbol: 'none', smooth: false, connectNulls: false,
        lineStyle: { color: MA_COLORS[m], width: 1.3 },
      });
    });

    const volData: any[] = [];
    for (let i = 0; i < NCAT; i++) {
      const j = i - PAD;
      if (j >= 0 && j < p.vol.length) {
        const up = p.ohlc[j][3] >= p.ohlc[j][0];
        volData.push({ value: p.vol[j], itemStyle: { color: up ? VUP : VDOWN } });
      } else {
        volData.push('-');
      }
    }
    series.push({
      type: 'bar', xAxisIndex: gP + 1, yAxisIndex: yP + 1, z: 2, silent: true, data: volData, barWidth: 6.5,
    });
  });

  return {
    animation: false,
    backgroundColor: SALMON,
    textStyle: { fontFamily: FONT },
    grid, xAxis, yAxis, series, graphic,
  };
}

export default function App() {
  const ref = useRef<HTMLDivElement>(null);
  useEffect(() => {
    document.body.style.margin = '0';
    if (!ref.current) return;
    const chart = echarts.init(ref.current, null, { renderer: 'svg', width: W, height: H });
    chart.setOption(buildOption() as any);
    return () => chart.dispose();
  }, []);
  return <div ref={ref} style={{ width: W, height: H }} />;
}
